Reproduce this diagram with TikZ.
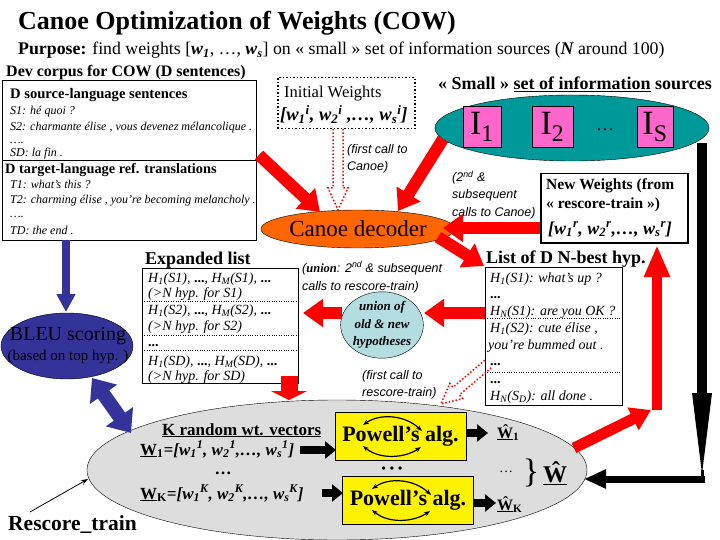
\documentclass[tikz,border=0pt]{standalone}
\usepackage{fontspec}
\setmainfont{Liberation Serif}
\newfontfamily\annfont{Liberation Sans}
\usetikzlibrary{arrows.meta,calc,shapes.geometric}
\newcommand\fsz[1]{\fontsize{#1}{#1}\selectfont}
\newcommand\wss[3]{#1\textsubscript{#2}\textsuperscript{#3}}
\definecolor{cowred}{HTML}{FF0000}
\definecolor{tealc}{HTML}{009999}
\definecolor{pinkc}{HTML}{FF66CC}
\definecolor{orangec}{HTML}{FF6600}
\definecolor{bleuc}{HTML}{333399}
\definecolor{unionc}{HTML}{B4DDE1}
\definecolor{grayc}{HTML}{DDDDDD}
\begin{document}
\begin{tikzpicture}[x=1pt,y=-1pt,
 txt/.style={anchor=base west,inner sep=0pt},
 ctxt/.style={anchor=base,inner sep=0pt},
 redarr/.style={draw=cowred,line width=12pt,-{Triangle[length=20pt,width=27pt]}},
 bluearr/.style={draw=bleuc,line width=8pt,-{Triangle[length=18pt,width=18pt]}},
 bluedbl/.style={draw=bleuc,line width=14pt,{Triangle[length=20pt,width=32pt]}-{Triangle[length=20pt,width=32pt]}},
 blkarr/.style={draw=black,line width=8pt,-{Triangle[length=11pt,width=17pt]}},
 dotarr/.style={draw=cowred,line width=1.5pt,dotted},
 listtxt/.style={txt,font=\fsz{14}\itshape},
 corptxt/.style={txt,font=\fsz{12}\itshape},
 anntxt/.style={txt,font=\annfont\fsz{12.5}\itshape},
 boxnode/.style={draw,anchor=north west,inner sep=0pt},
 cycarc/.style={line width=1.2pt,{Stealth[length=6pt]}-{Stealth[length=6pt]}},
]
\useasboundingbox (0,0) rectangle (720,540);

% ---------- title ----------
\node[txt,font=\fsz{26}\bfseries] (title) at (18,30) {Canoe Optimization of Weights (COW)};
\node[txt,font=\fsz{17.8}] (purpose) at (18,55) {\textbf{Purpose:} find weights [{\bfseries\itshape w\textsubscript{1}}, …, {\bfseries\itshape w\textsubscript{s}}] on « small » set of information sources ({\bfseries\itshape N} around 100)};

% ---------- rescore ellipse (background) ----------
\node[ellipse,draw,fill=grayc,minimum width=500pt,minimum height=140pt,inner sep=0pt] (resc) at (337,470) {};

% ---------- dev corpus ----------
\node[txt,font=\fsz{16}\bfseries] (devtitle) at (6,77) {Dev corpus for COW (D sentences)};
\node[boxnode,minimum width=254pt,minimum height=160pt] (dev) at (2,80) {};
\draw (2,160) -- (256,160);
\node[txt,font=\fsz{14.6}\bfseries] (srchead) at (10,99) {D source-language sentences};
\node[corptxt] (s1) at (10,115) {S1: hé quoi ?};
\node[corptxt] (s2) at (10,131) {S2: charmante élise , vous devenez mélancolique .};
\node[corptxt] (s3) at (10,144) {….};
\node[corptxt] (sd) at (10,157) {SD: la fin .};
\node[txt,font=\fsz{14.3}\bfseries] (tgthead) at (5,174) {D target-language ref. translations};
\node[corptxt] (t1) at (10,189) {T1: what’s this ?};
\node[corptxt] (t2) at (10,204) {T2: charming élise , you’re becoming melancholy .};
\node[corptxt] (t3) at (10,218) {….};
\node[corptxt] (td) at (10,234) {TD: the end .};

% ---------- initial weights ----------
\node[boxnode,dotted,line width=1.5pt,minimum width=137pt,minimum height=51pt] (init) at (277,77) {};
\node[txt,font=\fsz{16.5}] (inittxt) at (284,98) {Initial Weights};
\node[txt,font=\fsz{18.5}\bfseries\itshape] (initw) at (280,121) {[\wss{w}{1}{i}, \wss{w}{2}{i} ,…, \wss{w}{s}{i}]};

% ---------- small set of information sources ----------
\node[txt,font=\fsz{18}\bfseries] (smalltitle) at (438,90) {« Small » \underline{set of information} sources};
\node[ellipse,draw,fill=tealc,minimum width=274pt,minimum height=66pt,inner sep=0pt] (small) at (572,128) {};
\node[draw,fill=pinkc,minimum width=38pt,minimum height=41pt,inner sep=0pt,font=\fsz{34}] (i1) at (482,127) {I\textsubscript{1}};
\node[draw,fill=pinkc,minimum width=41pt,minimum height=41pt,inner sep=0pt,font=\fsz{34}] (i2) at (552.5,127) {I\textsubscript{2}};
\node[font=\fsz{18}] (idots) at (605,130) {…};
\node[draw,fill=pinkc,minimum width=36pt,minimum height=41pt,inner sep=0pt,font=\fsz{34}] (is) at (655,127) {I\textsubscript{S}};

% ---------- canoe decoder ----------
\node[ellipse,draw,fill=orangec,minimum width=168pt,minimum height=38pt,inner sep=0pt,font=\fsz{23}] (canoe) at (358,229) {Canoe decoder};

% dotted hollow arrow: initial weights -> canoe
\draw[dotarr] (333,129) -- (333,188) -- (328,188) -- (338,210) -- (348,188) -- (343,188) -- (343,129);
\node[anntxt] (fc1) at (347,154) {(first call to};
\node[anntxt] (fc2) at (347,171) {Canoe)};

% ---------- new weights ----------
\node[boxnode,line width=1.5pt,minimum width=147pt,minimum height=69pt] (neww) at (540,173) {};
\node[txt,font=\fsz{15.5}\bfseries] (nw1) at (546,190) {New Weights (from};
\node[txt,font=\fsz{15.5}\bfseries] (nw2) at (546,209) {« rescore-train »)};
\node[txt,font=\fsz{18}\bfseries\itshape] (nw3) at (548,234) {[\wss{w}{1}{r}, \wss{w}{2}{r},…, \wss{w}{s}{r}]};
\node[anntxt] (sc1) at (452,182) {(2\textsuperscript{nd} \&};
\node[anntxt] (sc2) at (452,199) {subsequent};
\node[anntxt] (sc3) at (452,216) {calls to Canoe)};

% ---------- expanded list ----------
\node[txt,font=\fsz{18}\bfseries] (exptitle) at (145,264) {Expanded list};
\node[boxnode,minimum width=156pt,minimum height=115pt] (exp) at (142,268) {};
\node[listtxt] (e1) at (148,282) {H\textsubscript{1}(S1), {\upshape\bfseries ...}, H\textsubscript{M}(S1), {\upshape\bfseries ...}};
\node[listtxt] (e2) at (148,297) {(>N hyp. for S1)};
\draw[dotted] (142,301) -- (298,301);
\node[listtxt] (e3) at (148,314) {H\textsubscript{1}(S2), {\upshape\bfseries ...}, H\textsubscript{M}(S2), {\upshape\bfseries ...}};
\node[listtxt] (e4) at (148,330) {(>N hyp. for S2)};
\draw[dotted] (142,335) -- (298,335);
\node[listtxt,font=\fsz{14}\bfseries] (e5) at (148,346) {...};
\draw[dotted] (142,350) -- (298,350);
\node[listtxt] (e6) at (148,365) {H\textsubscript{1}(SD), {\upshape\bfseries ...}, H\textsubscript{M}(SD), {\upshape\bfseries ...}};
\node[listtxt] (e7) at (148,380) {(>N hyp. for SD)};

% ---------- union ----------
\node[anntxt] (un1) at (302,272) {({\rmfamily\bfseries union}: 2\textsuperscript{nd} \& subsequent};
\node[anntxt] (un2) at (302,290) {calls to rescore-train)};
\node[ellipse,draw,fill=unionc,minimum width=76pt,minimum height=66pt,inner sep=0pt,align=center,font=\fontsize{13}{17.5}\selectfont\bfseries\itshape] (uni) at (382,325) {union of\\old \& new\\hypotheses};
\node[anntxt] (fr1) at (362,379) {(first call to};
\node[anntxt] (fr2) at (362,396) {rescore-train)};

% ---------- N-best list ----------
\node[txt,font=\fsz{18}\bfseries] (nbtitle) at (486,263) {List of D N-best hyp.};
\node[boxnode,minimum width=137pt,minimum height=138pt] (nbest) at (485,267) {};
\node[listtxt] (n1) at (490,282) {H\textsubscript{1}(S1): what’s up ?};
\node[listtxt,font=\fsz{14}\bfseries] (n2) at (490,298) {...};
\node[listtxt] (n3) at (490,315) {H\textsubscript{N}(S1): are you OK ?};
\draw[dotted] (485,318) -- (622,318);
\node[listtxt] (n4) at (490,332) {H\textsubscript{1}(S2): cute élise ,};
\node[listtxt] (n5) at (488,349) {you’re bummed out .};
\node[listtxt,font=\fsz{14}\bfseries] (n6) at (490,365) {...};
\draw[dotted] (485,372) -- (622,372);
\node[listtxt,font=\fsz{14}\bfseries] (n7) at (490,383) {...};
\node[listtxt] (n8) at (490,400) {H\textsubscript{N}(S\textsubscript{D}): all done .};

% dotted hollow arrow: N-best -> rescore
\draw[dotarr] (491.2,367.8) -- (459.5,394.8) -- (462.7,398.6) -- (441,404) -- (449.7,383.4) -- (453.0,387.2) -- (484.8,360.2);

% ---------- BLEU ----------
\node[ellipse,draw,fill=bleuc,minimum width=132pt,minimum height=66pt,inner sep=0pt] (bleu) at (67,346) {};
\node[ctxt,font=\fsz{20}] (bleu1) at (68,340) {BLEU scoring};
\node[ctxt,font=\fsz{15}] (bleu2) at (68,360) {(based on top hyp. )};

% ---------- rescore contents ----------
\node[txt,font=\fsz{21.5}\bfseries] (rtlabel) at (8,530) {Rescore\_train};
\coordinate (rta) at (30,512);
\coordinate (rtb) at (88,479);
\draw[line width=0.8pt,-{Stealth[length=7pt,width=5pt]}] (rta) -- (rtb);

\node[txt,font=\fsz{17}\bfseries] (krand) at (162,435) {\underline{K random wt. vectors}};
\node[txt,font=\fsz{17}\bfseries\itshape] (w1v) at (140,455) {{\upshape\underline{W}\textsubscript{1}}=[\wss{w}{1}{1}, \wss{w}{2}{1},…, \wss{w}{s}{1}]};
\node[ctxt,font=\fsz{17}\bfseries] (wdots) at (223,474) {…};
\node[txt,font=\fsz{17}\bfseries\itshape] (wkv) at (140,499) {{\upshape\underline{W}\textsubscript{K}}=[\wss{w}{1}{K}, \wss{w}{2}{K},…, \wss{w}{s}{K}]};

\node[draw,fill=yellow,minimum width=131pt,minimum height=48pt,inner sep=0pt,font=\fsz{22}\bfseries] (pow1) at (400.5,436) {Powell’s alg.};
\node[draw,fill=yellow,minimum width=131pt,minimum height=48pt,inner sep=0pt,font=\fsz{22}\bfseries] (pow2) at (408,500) {Powell’s alg.};
\draw[cycarc] (363,425) .. controls (380,413) and (405,415) .. (422,431);
\draw[cycarc] (363,446) .. controls (380,460) and (405,458) .. (421,447);
\draw[cycarc] (372,489) .. controls (389,477) and (414,479) .. (431,495);
\draw[cycarc] (372,510) .. controls (389,524) and (414,522) .. (430,511);
\node[ctxt,font=\fsz{12}\bfseries] (pdots) at (392,472) {•\,\,•\,\,•};

\coordinate (w1a) at (300,450); \coordinate (w1b) at (336,450);
\draw[blkarr] (w1a) -- (w1b);
\coordinate (wka) at (322,493); \coordinate (wkb) at (343,493);
\draw[blkarr] (wka) -- (wkb);
\coordinate (p1a) at (466,433); \coordinate (p1b) at (488,433);
\draw[blkarr] (p1a) -- (p1b);
\coordinate (p2a) at (473,503); \coordinate (p2b) at (496,503);
\draw[blkarr] (p2a) -- (p2b);

\node[txt,font=\fsz{16}\bfseries] (wh1) at (497,438) {\underline{Ŵ}\textsubscript{1}};
\node[txt,font=\fsz{16}\bfseries] (whk) at (497,510) {\underline{Ŵ}\textsubscript{K}};
\node[ctxt,font=\fsz{14}] (whdots) at (506,472) {…};
\node[ctxt,font=\fsz{34}] (brace) at (531,482) {\}};
\node[txt,font=\fsz{24}\bfseries] (wbig) at (543,482) {\underline{Ŵ}};

% ---------- red arrows ----------
\coordinate (r1a) at (259,155); \coordinate (r1b) at (320,212);
\draw[redarr] (r1a) -- (r1b);
\coordinate (r2a) at (443,139); \coordinate (r2b) at (398,211);
\draw[redarr] (r2a) -- (r2b);
\coordinate (r3a) at (540,228); \coordinate (r3b) at (443,228);
\draw[redarr] (r3a) -- (r3b);
\coordinate (r4a) at (438,237); \coordinate (r4b) at (484,266);
\draw[redarr] (r4a) -- (r4b);
\coordinate (r5a) at (485,313); \coordinate (r5b) at (424,313);
\draw[redarr] (r5a) -- (r5b);
\coordinate (r6a) at (342,313); \coordinate (r6b) at (303,313);
\draw[redarr] (r6a) -- (r6b);
\coordinate (r7a) at (289,376); \coordinate (r7b) at (289,400);
\draw[draw=cowred,line width=17pt,-{Triangle[length=9pt,width=36pt]}] (r7a) -- (r7b);
\coordinate (r8a) at (574,448); \coordinate (r8b) at (651,410);
\draw[redarr,line width=11pt,-{Triangle[length=20pt,width=24pt]}] (r8a) -- (r8b);
\coordinate (r9a) at (657,410); \coordinate (r9b) at (657,245);
\draw[redarr,line width=10pt,-{Triangle[length=32pt,width=24pt]}] (r9a) -- (r9b);

% ---------- blue arrows ----------
\coordinate (b1a) at (66,240); \coordinate (b1b) at (66,312);
\draw[bluearr] (b1a) -- (b1b);
\coordinate (b2a) at (92,378); \coordinate (b2b) at (131,433);
\draw[bluedbl] (b2a) -- (b2b);

% ---------- black feedback arrow ----------
\coordinate (k1) at (702,143); \coordinate (k2) at (702,395);
\draw[line width=10pt] (k1) -- (k2);
\fill (692,393) -- (712,393) -- (702,474) -- cycle;
\draw[line width=3pt] (702,470) -- (702,483);
\coordinate (k3) at (705,479); \coordinate (k4) at (584,479);
\draw[blkarr,line width=7pt,-{Triangle[length=22pt,width=18pt]}] (k3) -- (k4);
\end{tikzpicture}
\end{document}
